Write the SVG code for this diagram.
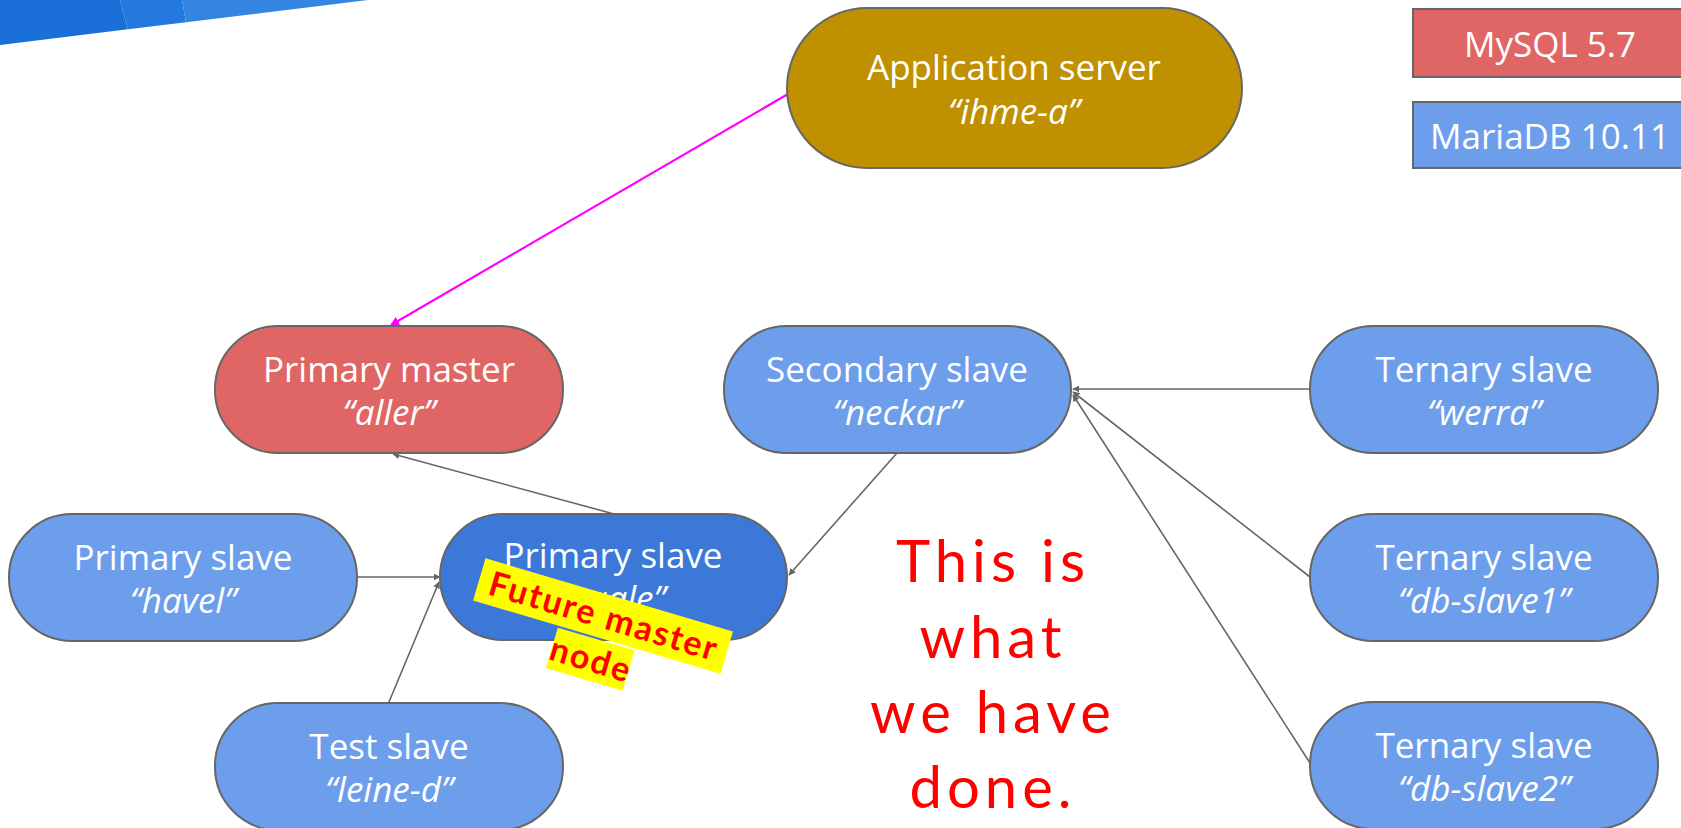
<svg xmlns="http://www.w3.org/2000/svg" width="1681" height="828" viewBox="0 0 1681 828">
<style>
.node{stroke:#666666;stroke-width:2}
.red{fill:#e06666}
.blue{fill:#6d9eeb}
.dblue{fill:#3c78d8}
.gold{fill:#bf9000}
.t{font-family:"Open Sans","Noto Sans",sans-serif;font-size:35px;fill:#ffffff;text-anchor:middle}
.i{font-style:italic}
.conn{stroke:#666666;stroke-width:1.6;fill:none;marker-end:url(#ah)}
.hand{font-family:Lato,"Liberation Sans",sans-serif;fill:#ff0000;text-anchor:middle}
</style>
<defs>
<marker id="ah" viewBox="0 0 10 10" refX="9" refY="5" markerWidth="7" markerHeight="7" orient="auto" markerUnits="userSpaceOnUse">
<path d="M0,0 L10,5 L0,10 z" fill="#666666"/>
</marker>
<marker id="ahm" viewBox="0 0 10 10" refX="9" refY="5" markerWidth="9" markerHeight="9" orient="auto" markerUnits="userSpaceOnUse">
<path d="M0,0 L10,5 L0,10 z" fill="#ff00ff"/>
</marker>
</defs>
<rect width="1681" height="828" fill="#ffffff"/>
<g id="banner">
<polygon points="0,0 120,0 128,29.3 0,45" fill="#1b6fd8"/>
<polygon points="120,0 182,0 186,22.2 128,29.3" fill="#2379dd"/>
<polygon points="182,0 368,0 186,22.2" fill="#3385e1"/>
</g>
<g id="connectors">
<line x1="788" y1="94" x2="391" y2="325" stroke="#ff00ff" stroke-width="2.2" marker-end="url(#ahm)"/>
<line class="conn" x1="614" y1="514" x2="393" y2="454"/>
<line class="conn" x1="897" y1="453" x2="789" y2="575"/>
<line class="conn" x1="357" y1="577" x2="440" y2="577"/>
<line class="conn" x1="389" y1="702" x2="439" y2="582"/>
<line class="conn" x1="1310" y1="389" x2="1073" y2="389"/>
<line class="conn" x1="1310" y1="577" x2="1073" y2="392"/>
<line class="conn" x1="1310" y1="763" x2="1073" y2="395"/>
</g>
<g id="legend-mysql">
<rect class="node red" x="1413" y="9" width="275" height="68"/>
<text class="t" x="1550" y="57">MySQL 5.7</text>
</g>
<g id="legend-mariadb">
<rect class="node blue" x="1413" y="102" width="275" height="66"/>
<text class="t" x="1550" y="149">MariaDB 10.11</text>
</g>
<g id="app-server">
<rect class="node gold" x="787" y="8" width="455" height="160" rx="80"/>
<text class="t" x="1014" y="80">Application server</text>
<text class="t i" x="1014" y="124">“ihme-a”</text>
</g>
<g id="primary-master">
<rect class="node red" x="215" y="326" width="348" height="127" rx="63"/>
<text class="t" x="389" y="382">Primary master</text>
<text class="t i" x="389" y="425">“aller”</text>
</g>
<g id="secondary-slave">
<rect class="node blue" x="724" y="326" width="347" height="127" rx="63"/>
<text class="t" x="897" y="382">Secondary slave</text>
<text class="t i" x="897" y="425">“neckar”</text>
</g>
<g id="ternary-werra">
<rect class="node blue" x="1310" y="326" width="348" height="127" rx="63"/>
<text class="t" x="1484" y="382">Ternary slave</text>
<text class="t i" x="1484" y="425">“werra”</text>
</g>
<g id="ternary-db-slave1">
<rect class="node blue" x="1310" y="514" width="348" height="127" rx="63"/>
<text class="t" x="1484" y="570">Ternary slave</text>
<text class="t i" x="1484" y="613">“db-slave1”</text>
</g>
<g id="ternary-db-slave2">
<rect class="node blue" x="1310" y="702" width="348" height="127" rx="63"/>
<text class="t" x="1484" y="758">Ternary slave</text>
<text class="t i" x="1484" y="801">“db-slave2”</text>
</g>
<g id="primary-slave-havel">
<rect class="node blue" x="9" y="514" width="348" height="127" rx="63"/>
<text class="t" x="183" y="570">Primary slave</text>
<text class="t i" x="183" y="613">“havel”</text>
</g>
<g id="test-slave">
<rect class="node blue" x="215" y="703" width="348" height="127" rx="63"/>
<text class="t" x="389" y="759">Test slave</text>
<text class="t i" x="389" y="802">“leine-d”</text>
</g>
<g id="primary-slave-saale">
<rect class="node dblue" x="440" y="514" width="347" height="126" rx="63"/>
<text class="t" x="613" y="568">Primary slave</text>
<text class="t i" x="613" y="611">“saale”</text>
</g>
<g id="future-master-note" transform="translate(603,616) rotate(16.5)">
<rect x="-129" y="-22" width="258" height="44" fill="#ffff00"/>
<rect x="-40" y="24" width="80" height="42" fill="#ffff00"/>
<text class="hand" x="1" y="12" font-size="34" font-weight="bold" letter-spacing="2">Future master</text>
<text class="hand" x="1" y="57" font-size="34" font-weight="bold" letter-spacing="2">node</text>
</g>
<g id="note" class="hand" font-size="58" letter-spacing="5">
<text x="993" y="582">This is</text>
<text x="993" y="658">what</text>
<text x="993" y="733">we have</text>
<text x="993" y="808">done.</text>
</g>
</svg>
